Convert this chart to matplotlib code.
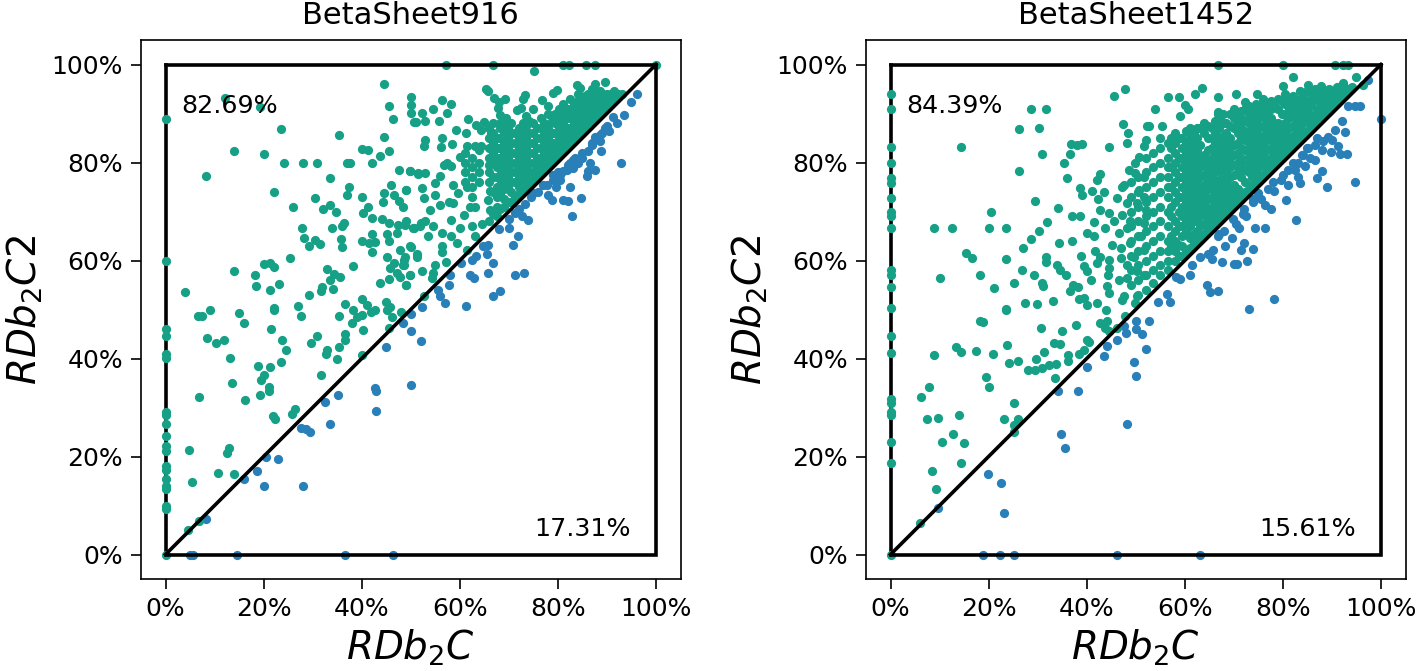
import matplotlib
matplotlib.use("Agg")
import matplotlib.pyplot as plt
from matplotlib.ticker import FuncFormatter

GREEN = "#16a085"
BLUE = "#2980b9"

titles = ["BetaSheet916", "BetaSheet1452"]
upper_labels = ["82.69%", "84.39%"]
lower_labels = ["17.31%", "15.61%"]
ticks = [0, 20, 40, 60, 80, 100]

left_axis_y = [88.8, 60, 46.1, 44.6, 40.9, 40.1, 29, 28.5, 26.7, 24.1, 22.2, 21.2, 18.1, 17.3, 15.4, 14, 13.3, 9.9, 9.2, 0]
right_axis_y = [94, 90.9, 83.2, 79.9, 76.8, 75.8, 72.7, 69.8, 69, 66.6, 58.1, 57.1, 54.5, 50.3, 44.5, 41.2, 31.8, 30.9, 29, 28.4, 22.9, 18.7, 0]

left_top_x = [57.1, 66.7, 81.1, 82.3, 85.7, 87.6, 100]
right_top_x = [66.7, 80, 90.7, 92.3, 93.3]

left_bottom_x = [5, 5.6, 14.5, 36.5, 46.3]
right_bottom_x = [18.8, 22.4, 25.1, 46.2, 63]

left_green = [
(12.2,93.1),(19.2,91.3),(23.5,86.9),(13.9,82.3),(20,81.7),(8.3,77.3),(24.2,79.9),(28,79.9),(30.8,79.9),(35.4,85.6),
(44.5,96.1),(50,93.3),(50,91.8),(50,90.1),(45.5,91.6),(46.3,88.8),(51,88.2),(44.5,85.3),(40,82.7),(41.2,82.5),
(45.6,82.4),(43.8,81.4),(42.1,79.9),(37,79.9),(37.7,79.9),(33.5,76.8),(22.2,74),(26,71),(30.5,72.7),(32.2,70.6),
(33.5,71.4),(34.8,69.9),(37.5,75),(37.1,73.3),(40.1,73),(41.2,70.9),(40.2,69.7),(42.1,68.6),(47.7,78.4),(49.9,78.2),
(51.4,77.7),(45.9,75.4),(44.5,73.7),(49.1,74.4),(46.5,73.4),(47.6,72.2),(48.4,71),(44.3,71.9),(44.1,68.5),(45.5,67.6),
(49.1,68),(47.5,67.3),(47.2,65.6),(50.6,66.6),(52,67.6),(27.8,66.6),(33.9,66.6),(36.3,67.6),(36,67.1),(28.2,64.5),
(30.4,64.2),(31.4,63.3),(29.3,63),(35.8,64.3),(35.9,62.7),(40.1,63.9),(42,65.5),(42.8,63.7),(41.4,63.5),(42.1,61.8),
(45.2,65.4),(45.6,63.9),(14,57.8),(18.3,57.1),(20,59.2),(21.4,59.4),(22.2,58.6),(18.5,54.8),(21.3,53.9),(23.1,55.2),
(25.4,60.5),(3.9,53.5),(29.2,53),(32.9,58.2),(34.3,57.2),(35.5,56.7),(33.5,56),(34.2,54.1),(32,54.5),(31.7,53.7),
(38.2,58.9),(36.5,51.2),(43.8,55.5),(45.2,60.8),(47.9,62.2),(50,62.7),(51.3,60.8),(48.6,60.1),(46.5,59.5),(45.8,58.4),
(48.6,59.1),(47.1,57.4),(49.9,57.1),(47.9,56.7),(45.5,56.2),(49.1,55),(40.1,52.1),(41.1,50.9),(45,51.6),(45.8,50.6),
(9.1,50),(6.7,48.6),(7.4,48.6),(14.9,49.3),(16,47.2),(8.4,44.1),(10.2,43.2),(11.9,43.7),(13.1,40.1),(21.6,46.1),
(22.2,50.4),(22.2,49.9),(27.1,50.7),(27.7,48.6),(23.8,43.7),(24.6,41.8),(23.5,39.3),(18.8,38.5),(21.3,38.2),(20,36.6),
(19.5,35.6),(13.5,35),(6.9,32.2),(16.3,31.6),(19.3,32.6),(21,34.1),(21.2,33.3),(30.8,44.6),(29.7,43.2),(32.9,41.8),
(32.7,40.9),(35,40),(31.7,36.7),(35.4,48.6),(38.2,50),(38,47.3),(39,48.4),(40.1,48.9),(40.2,45.9),(36.5,45),
(36.5,43.7),(35.4,42.4),(40.1,40.7),(42.8,50),(41.9,49.4),(45.2,50),(46.1,48.5),(48.1,49.4),(45.5,46.2),(4.7,21.4),
(12.9,21.7),(12.6,20.8),(10.6,16.7),(5.3,14.8),(14,16.4),(21.9,28.2),(22.3,27.6),(26.5,29.7),(25.7,28.6),(6.9,6.8),(4.5,4.9),
(75.1,98.6),(65.4,95),(65.8,94.5),(87.6,96),(89.6,96.4),(83.8,95.9),(84.5,95.2),(79.9,94.7),(79,94.1),(73.3,93.7),
(72.8,92.9),(69.2,93),(67.9,92.4),(66.9,93.1),(56.3,92.7),(58.3,92),(54.6,90.9),(57.4,90.1),(52.2,90.1),(50.6,88.2),
(52.9,88.4),(55.7,88.4),(76.7,92.7),(77.9,91.6),(75,90.9),(72.4,91.1),(71.7,90.7),(67.8,91.1),(68.1,89.7),(61.7,88.9),
(65,88.2),(63.3,87.7),(59.2,86.7),(61.2,86),(64.3,86.7),(66.4,86.1),(52.9,84.6),(52.7,83.3),(56.4,85),(56.1,83.1),
(58.5,83.8),(61.4,83.3),(63.1,83.3),(64.4,83.4),(68.1,88),(69.4,89),
(49.8,78.2),(51.5,77.8),(52.9,77.8),(49,74.4),(52.2,74.8),(52.6,72.7),(55,75.8),(55,73.4),(56,77.2),(57.3,79.9),
(58.3,79.2),(60,81.2),(58.7,75.4),(59.7,73.7),(57.7,72),(58.7,71.7),(56,71.4),(53.9,70.3),(52.9,68),(54.6,67.1),
(51.9,67),(50.5,66.6),(48.8,67.3),(56.3,65.6),(53.6,64.9),(58.3,64.9),(60,66.6),(62.4,67),(64.5,67.4),(63.1,64.9),
(59.4,63.5),(56.3,62.9),(56.3,61.8),(61.4,62.2),(49.8,62.9),(51.2,61.4),(48.8,60.8),(48.5,59.1),(57.1,59.7),(55,59.1),
(52.2,57.8),(54.6,57.4),(54.3,56.4),(49.8,57.1),(49,55),(52.6,52.7),(62.1,71),(63.1,71),(60.9,69.3),(58.3,68.3),
(66.2,70.3),(65.8,72.4),(66.2,74.1),(62.4,73),(61.4,75.1),(56.7,79.5),
]
left_green_columns = [
(61,[76,78,80,82]),(62.5,[75,77,79,81]),(64,[76,78,80,82.5]),
(66,[68,76,78,79.5,81,83,85,87]),(67.5,[69,71,73,75,77,79,81,83,85]),
(69,[71,72.5,74.5,76.5,78,80,82,84,86,88]),(70.5,[72,74,76,78,80,82,84,86,88]),
(72,[73.5,75,77,79,81,83,85,87]),(73.5,[75,77,79,81,83,85,87.5,89.5]),
(75,[76.5,78,80,82,84,86,88]),(76.5,[78,79.5,81,83,85,87,89]),
(78,[79.5,81,83,85,87,90]),(79.5,[81,82.5,84,86,88,90]),
(81,[82.5,84,86,88,90,92]),(82.5,[84,85.5,87,89,91,93]),
(84,[85.5,87,89,91,92.5,94]),(85.5,[87,88.5,90,92,93.5]),
(87,[88.5,90,91.5,93,95]),(88.5,[90,91.5,93,94.5]),
(90,[91.5,92.5,94]),(91.5,[93,94.5]),(93,[94]),
(66.8,[69.5,74,77,80,82,84,86,88]),
(68.2,[70.5,73.5,75.5,77.5,79,81,83,85,87]),
(69.8,[72,75,77,79,81,83,85,87]),
(71.2,[73,76,78,80,82,84,86]),
(72.8,[74.5,76,78,80,82,84,86,88]),
(74.2,[76,78,80,82,84,86,88.5]),
(75.8,[77.5,79,81,83,85,87]),
(77.2,[79,80.5,82,84,86,88]),
(78.8,[80.5,82,84,86,88.5]),
(80.2,[82,83.5,85,87,89,91]),
(81.8,[83.5,85,87,89,91]),
(83.2,[85,86,88,90,92]),
(84.8,[86.5,88,90,91.5,93]),
(86.2,[88,89.5,91,92.5,94]),
(87.8,[89.5,91,92.5,94]),
(89.2,[91,92.5,94]),
(90.8,[92.5,94]),
(92.2,[94]),
]
left_blue = [
(50.1,49),(48.4,47.3),(50.1,45.6),(52,43.5),(44.9,42.4),(50.1,34.5),(42.8,33.9),(42.9,33.3),(42.9,29.3),(35.2,32.5),
(32.5,31.1),(33.5,26.7),(27.7,25.9),(28.6,25.6),(29.5,25.1),(20.4,20),(23,19.5),(18.6,17.1),(16,15.4),(20,14),(28,14),(8.2,7.3),
(96.1,94),(95,92.3),(93.5,89.6),(92,88),(91.3,89.3),(89.6,87.1),(88.6,85.6),(87.6,85.3),(88.6,84.3),(86.2,82.4),
(88.8,82.3),(92.9,79.9),(86.5,79.9),(87.6,78.4),(85.9,77.3),(86.2,78.2),(84.5,80.9),(83.1,78.8),(81.8,78.5),(82.4,79.9),
(81.1,78.2),(84.8,72.7),(82.4,75),(82.1,72.2),(81,72.4),(78.7,72.4),(78,73.3),(77.8,75.4),(79.7,75.1),(80.4,76.5),
(76,73.9),(74.6,72.9),(82.8,69),(73.3,71.5),(74,68.2),(72.6,69),(71.2,69.7),(70,66.7),(71.9,64.9),(70.9,63.1),
(65.8,63.2),(64.8,62.9),(65.5,61.4),(66.7,59.5),(63.4,61),(62.4,60.1),(60.3,59.5),(65.8,57.4),(62,57.1),(62.8,56.4),
(71.2,57.1),(73.1,57.4),(68.2,53.7),(66.7,52.7),(58,57.1),(57.7,55),(55.6,54),(57,51.4),(61.2,50.8),(56,52.7),(52.2,50.6),
(79,77.5),(80,78),(83.5,81),(85,82),(87,84),(90,87.5),(77,75.5),(75,73.8),(72,70.5),(70,68.5),(68,66.5),
(83,80.5),(84,80),(85,81),(82,79.5),(80.5,77.5),(79,76.5),(88,85),(89,86),(87,83.5),(90.5,86.5),
]

right_green = [
(47.8,95.1),(45.6,93.6),(28.6,90.9),(31.8,90.9),(26.1,86.9),(30.3,87.1),(14.3,83.2),(30.9,81.7),(36.7,83.8),(38,83.5),
(39,83.7),(36.5,81.7),(35.4,79.9),(26.1,78.3),(36,76.8),(44.6,83.2),(47.5,87.8),(48.4,86.1),(48.3,83.9),(52.7,87.4),
(52,84.6),(51.6,83.3),(50.6,81.2),(49.9,79.9),(48.6,78.5),(49.9,77.8),(51.6,77.1),(42.8,77.7),(42.2,76.5),(47.6,75.4),
(47.1,75),(38.6,74.8),(39,73.4),(41,74.1),(43.5,73.9),(42.4,72.5),(29.4,72.2),(34.1,70.8),(46.2,72.7),(48.2,71.7),
(50.6,74.4),(51.6,73),(50.3,71.7),(52,70.3),(20.5,69.8),(32,67.9),(8.8,66.6),(12.6,66.6),(20.1,66.6),(23.5,66.6),
(37.1,69.1),(38.7,69.1),(42.8,70.3),(44.5,69.7),(47.1,69.3),(41.4,67.8),(43.8,66.7),(45.5,68),(48.9,68),(48.2,66.6),
(51.6,67.6),(30.3,66),(28.6,64.4),(27,62.6),(34.3,63.5),(36.9,64),(40.1,65.7),(41.4,64.9),(46.5,65.6),(45.2,63.2),
(15.4,61.5),(16.7,60.5),(23.5,60.3),(31.6,60.8),(31.6,59.6),(38.8,61),(41.6,62),(46.9,62.5),(48.9,63.5),(51,64.9),
(49.6,60.8),(51.6,62.2),(42.8,60.8),(42.2,59.5),(44.5,60.1),(46.9,60.5),(48.2,59.1),(39.5,58.9),(40.1,57.8),(40.9,56),
(33.9,59.1),(34.6,58.1),(35.8,57.1),(26.8,58.1),(29.3,57.1),(30.9,55.4),(31,54.8),(25.1,55.5),(21.2,54.4),(18.2,57.1),
(10,56.5),(37.3,55),(38.2,54.6),(36.5,53.7),(44.5,58.4),(44.3,57.1),(44.1,54.8),(44.5,53.3),(46.5,56),(48.2,56.4),
(50.3,57.8),(51.6,57.1),(38.4,52.2),(39.5,52.4),(40.1,51),(42.1,51.4),(47.2,52),(47.6,52.8),(50.3,52.7),(49.9,51.3),
(33.1,51.8),(27.5,51.3),(29.8,51.2),(23.5,50.1),(23.6,50),(18.3,47.7),(18.8,47.4),(30.6,46.2),(35,45.6),(37.8,46.9),
(42.8,47.3),(44.1,47.7),(43.8,46.3),(44.5,45.6),(46.1,46.3),(47.8,48.7),(44,50),(23.7,42.7),(13.4,42.4),(14.3,41.4),
(17.4,41.6),(20.8,41),(8.8,40.7),(33.4,43.2),(34.6,42.9),(31.2,41.4),(29.7,40),(26,39.4),(24.1,39),(28,37.7),
(29.5,37.6),(30.9,38.1),(32.3,38.6),(33.8,38.8),(33.6,36.1),(36.2,40.7),(36.2,39.5),(38.4,40.9),(39.4,41.7),(40.1,43.8),
(40.5,43.3),(19.5,36.3),(20.1,34.1),(7.8,34.1),(6.2,32.2),(25.2,30.9),(7.5,27.6),(9.7,27.8),(13.9,28.4),(23.1,27.6),
(25.9,27.6),(25.1,26.4),(25.1,25),(12.8,24.5),(10.5,22.9),(15,22.8),(14.3,18.7),(8.4,17.1),(9.3,13.3),(6.1,6.5),
(82,97.4),(80,95.6),(85.2,95.9),(87.8,95.6),(92.3,96.3),(95,97.4),(96.4,95.9),(63.6,95.2),(62,94),(56.6,93.3),
(58.8,93.3),(66.7,93.3),(70.5,94),(74.8,94),(72.2,92.3),(60.1,91.8),(60.6,90.9),(53.9,91),(66.7,90.4),(66.7,89.9),
(59,89.4),(52.2,87.5),(55.4,87.5),
]
right_green_columns = [
(49.0,[55,58,61,64,67,70,73,76]),
(50.5,[53,56,59,62,65,68,71,74,77]),
(52.0,[54,57,60,63,66,69,72,75,78,81]),
(53.5,[55.5,58,61,64,67,70,73,76,79,82]),
(55.0,[57,59,62,65,68,71,74,77,80,83,85]),
(56.5,[58,60,62,64,67,70,73,75,77,79,81,84]),
(58.0,[60,62,64,66,68,72,74,76,78,80,82,84,86]),
(59.5,[61,63,65,67,69,71,73,75,77,79,81,83,85]),
(61.0,[62.5,64.5,67,69,71,73,75,77,79,81,83,85,87]),
(62.5,[64,66,68.5,70.5,72.5,74.5,76.5,78.5,80.5,82.5,85,87]),
(64.0,[65.5,67.5,69.5,71.5,73.5,75.5,77.5,79.5,81.5,86,88]),
(65.5,[67,69,71,73,75,77,79,81,83,85,87]),
(67.0,[68.5,71,72.5,74.5,76.5,78.5,80.5,82.5,84.5,87,89]),
(68.5,[70,72,74,76,78,80,82,84,86,88]),
(70.0,[71.5,73.5,75.5,77.5,79.5,81.5,83.5,87,89,91]),
(71.5,[73,77,79,81,83,85,87,89,90.5]),
(73.0,[74.5,78,80,82,84,86,88,90,91.5]),
(74.5,[76,78,80,82,84,86,88,90,92]),
(76.0,[77.5,79.5,81.5,83.5,85.5,87.5,89.5,91.5,93]),
(77.5,[79,81,83,85,87,89,91,92.5]),
(79.0,[80.5,82.5,84.5,86.5,88,91,93]),
(80.5,[82,84,86,88,90,92,94]),
(82.0,[83.5,85.5,87.5,89.5,91.5,93.5]),
(83.5,[85,87,89,91,93,94.5]),
(85.0,[86.5,88.5,90.5,92.5,94.5]),
(86.5,[88,90,93,95]),
(88.0,[89.5,91.5,93.5,95]),
(89.5,[91,93,95]),
(91.0,[92.5,94,95.5]),
(92.5,[94,95.5]),
(94.0,[95.5]),
(57.2,[63,65,69,71,75,79,83,85]),
(58.8,[61,63.2,67,70,73,77,81,85]),
(60.3,[62,66,68,70,72,74,76,78,80,82,84,86.5]),
(61.8,[63.5,65.5,68,70,72,74,76,78,80,82,84,86]),
(63.2,[65,67,69,71,73,75,77,79,81,83.5,87]),
(64.8,[66.5,68.5,70.5,72.5,74.5,76.5,78.5,80.5,82.5,85,87.5]),
(66.2,[68,70,72,74,76,78,80,82,84,86,88.5]),
(67.8,[69.5,71.5,73.5,75.5,77.5,79.5,81.5,83.5,85.5,88,90]),
(69.2,[71,73,75,77,79,81,83,85,87.5,90]),
(70.8,[72.5,74.5,78,80,82,84,86,88,90]),
(72.2,[74,76,78.5,80.5,82.5,84.5,86.5,88.5,91]),
(73.8,[75.5,77,79,81,83,85,87,89,91]),
(75.2,[77,79,81,83,85,87,89,91]),
(76.8,[78.5,80.5,82.5,84.5,86.5,88.5,90.5,92]),
(78.2,[80,82,84,86,88,92]),
(79.8,[81.5,83.5,85.5,87.5,90,92.5]),
(81.2,[83,85,87,89,91,93]),
(82.8,[84.5,86.5,88.5,90.5,92.5]),
(84.2,[86,88,90,92,94]),
(85.8,[87.5,89.5,91.5,94]),
(87.2,[89,91,92.5,94.5]),
(88.8,[90.5,92.5,94.5]),
(90.2,[92,94]),
(91.8,[93.5,95]),
(93.2,[95]),
]
right_blue = [
(9.7,9.5),(23.1,8.4),(19.8,16.5),(22.6,14.6),(34.7,24.6),(35.6,21.7),(48.3,26.7),(34.1,33.3),(38.2,33.4),(40.1,38.2),
(43.6,40.5),(44.1,42.6),(46.2,43.7),(48,45.2),(50.1,46.1),(50.1,47.7),(51.2,45.1),(52.7,47.7),(52.1,41.9),(49.7,39.2),
(50.1,36.4),(47.6,46.7),(100,88.8),(97.4,96.9),(95.7,91.6),(94.7,91.6),(93.3,91.6),(94.7,76.1),(92,88.4),(92.7,86.3),
(90.6,86.7),(89.2,85.3),(88.2,84.3),(91.3,83.3),(89.9,82.2),(93,81.7),(91.6,81.7),(86.5,83.6),(85.2,82.9),(86.5,80.5),
(83.8,81.6),(84.5,79.2),(87.9,78.2),(86.9,76.8),(88.9,75),(82.4,78.5),(83.1,77.1),(83.5,75.8),(81.1,75.4),(79.7,76.5),
(78.2,74.1),(80.6,72.4),(75,73.7),(73.9,72),(76.3,71.4),(77.5,70.5),(71.8,69.5),(69.9,68.4),(82.7,68.2),(71.1,66.6),
(74.3,66.6),(76.3,66.6),(66.7,64.9),(69.6,64.6),(68.2,62.9),(72.1,63.5),(71.4,62.2),(73.9,62.4),(65.8,62.2),(64.8,61.4),
(65.6,60.3),(67.6,59.7),(70,59.3),(70.7,59.3),(72.7,60),(61.4,59.1),(61,57.1),(58.3,56.7),(59,56.2),(64.6,55),
(65.2,53.5),(66.7,53.7),(78.2,52.1),(73.1,50.1),(56.3,53.2),(54.6,51.6),(56.9,51.6),
(81,78.5),(82,80),(84,81.5),(87,85),(85,83),(78,76),(77,74.5),(74,72.5),(72,70.5),(67,65.5),(68,66),(63,60.8),
(80,77.5),(83,79.8),(85.5,81),(88,82.5),(90,84.5),(75.5,72.5),(72.5,69),(70.5,67.5),
]

def expand(columns):
    return [(x, y) for x, ys in columns for y in ys]

panels = [
    (left_axis_y, left_top_x, left_bottom_x, left_green + expand(left_green_columns), left_blue),
    (right_axis_y, right_top_x, right_bottom_x, right_green + expand(right_green_columns), right_blue),
]

plt.rcParams["font.family"] = "DejaVu Sans"
plt.rcParams["mathtext.fontset"] = "dejavusans"
fig = plt.figure(figsize=(14.18, 6.71), dpi=100)
W, H = 1418, 671
lefts = [141, 866]
for i, (axis_y, top_x, bottom_x, green, blue) in enumerate(panels):
    ax = fig.add_axes([lefts[i] / W, 1 - 579 / H, 539.5 / W, 539 / H])
    ax.plot([0, 0], [0, 100], color="black", lw=2.6, zorder=1)
    gx = [p[0] for p in green] + [0] * len(axis_y) + top_x
    gy = [p[1] for p in green] + axis_y + [100] * len(top_x)
    bx = [p[0] for p in blue] + bottom_x
    by = [p[1] for p in blue] + [0] * len(bottom_x)
    ax.scatter(bx, by, s=44, color=BLUE, linewidths=0, zorder=2)
    ax.scatter(gx, gy, s=44, color=GREEN, linewidths=0, zorder=2.1, clip_on=False)
    ax.plot([0, 100, 100], [0, 0, 100], color="black", lw=2.6, zorder=3, solid_joinstyle="miter")
    ax.plot([0, 100], [100, 100], color="black", lw=2.6, zorder=3)
    ax.plot([0, 100], [0, 100], color="black", lw=2.6, zorder=3)
    ax.set_xlim(-5, 105)
    ax.set_ylim(-5, 105)
    ax.set_xticks(ticks)
    ax.set_yticks(ticks)
    fmt = FuncFormatter(lambda v, _: f"{v:.0f}%")
    ax.xaxis.set_major_formatter(fmt)
    ax.yaxis.set_major_formatter(fmt)
    ax.tick_params(labelsize=18, length=7, width=1.2, pad=6)
    for s in ax.spines.values():
        s.set_linewidth(1.2)
    ax.set_title(titles[i], fontsize=22, pad=11.5)
    ax.set_xlabel(r"$RDb_2C$", fontsize=28, labelpad=5)
    ax.set_ylabel(r"$RDb_2C2$", fontsize=28, labelpad=5)
    ax.text(3.2, 91.5, upper_labels[i], fontsize=18.2, va="center", ha="left", zorder=5)
    ax.text(75.1, 5.3, lower_labels[i], fontsize=18.2, va="center", ha="left", zorder=5)

fig.savefig("out.png", dpi=100)
